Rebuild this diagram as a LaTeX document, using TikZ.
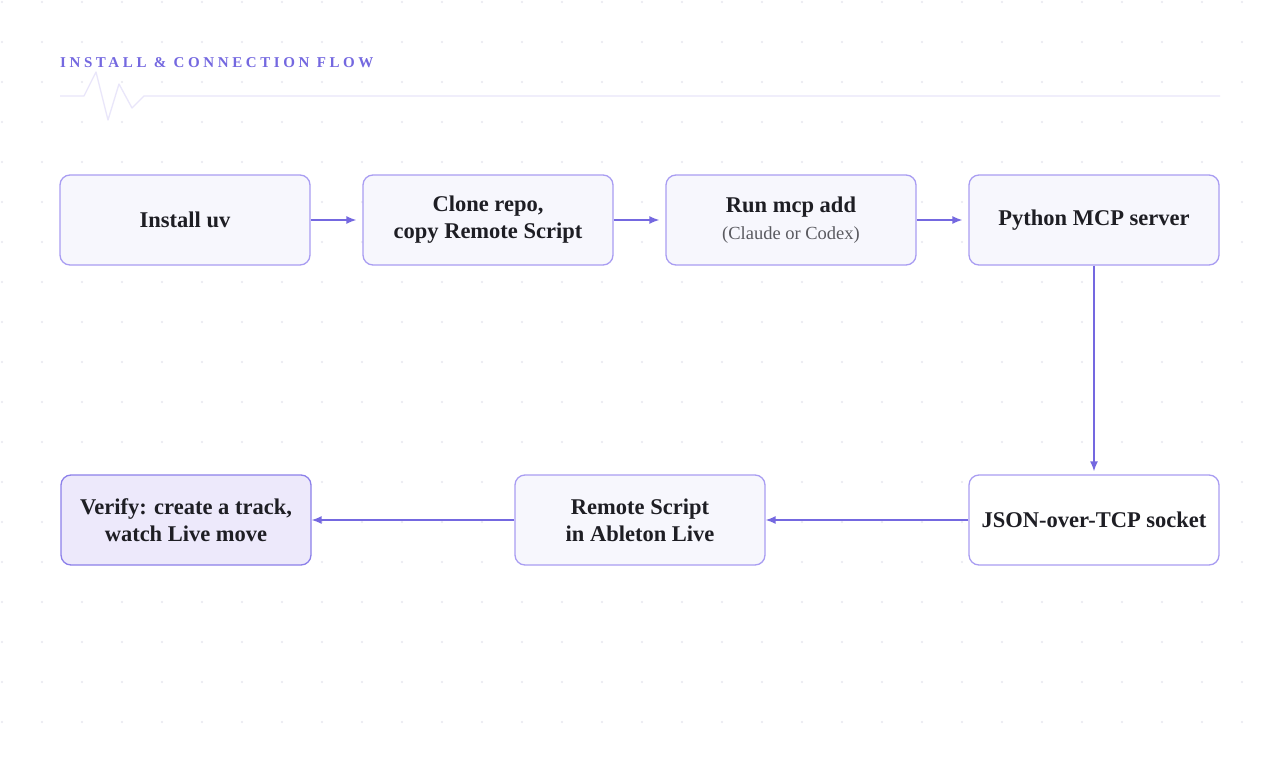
\documentclass[tikz,border=0pt]{standalone}
\usepackage{fontspec}
\setmainfont{Liberation Serif}
\newfontfamily\titlefont[LetterSpace=24]{Liberation Serif}
\usepackage{xcolor}
\usetikzlibrary{arrows.meta, positioning}

\definecolor{flowpurple}{HTML}{7468E0}
\definecolor{boxedge}{HTML}{A99DF2}
\definecolor{boxfill}{HTML}{F7F7FD}
\definecolor{verifyedge}{HTML}{8C80EA}
\definecolor{verifyfill}{HTML}{EDE9FB}
\definecolor{pulse}{HTML}{E9E6FA}
\definecolor{griddot}{HTML}{E7E7EF}
\definecolor{inktext}{HTML}{1E1E24}
\definecolor{subtext}{HTML}{5A5A60}

\begin{document}
\begin{tikzpicture}[x=1pt, y=-1pt,
    >={Latex[length=10pt, width=8pt]}, node distance=51.7pt,
    stepbox/.style={draw=boxedge, line width=1.3pt, rounded corners=10pt, fill=boxfill, minimum width=250pt, minimum height=90pt, inner sep=0pt, align=center, text=inktext, font=\fontsize{22.5}{27}\selectfont\bfseries},
    verifybox/.style={stepbox, draw=verifyedge, fill=verifyfill},
    socketbox/.style={stepbox, fill=white},
    flow/.style={->, line width=1.5pt, color=flowpurple},
]
% canvas and dot grid
\fill[white] (0,0) rectangle (1280,760);
\useasboundingbox (0,0) rectangle (1280,760);
\foreach \gx in {0,...,31} {
  \foreach \gy in {0,...,18} {
    \fill[griddot] (2+40*\gx, 2+40*\gy) circle (1.1pt);
  }
}
% title with pulse line
\node[anchor=base west, inner sep=0pt, text=flowpurple, font=\titlefont\fontsize{15}{18}\selectfont\bfseries] (title) at (60,68) {INSTALL \& CONNECTION FLOW};
\draw[pulse, line width=1.3pt, line join=round] (60,96) -- (84,96) -- (96,72) -- (108,120) -- (119,84) -- (132,108) -- (144,96) -- (1220,96);

% top row
\node[stepbox] (uv) at (185,220) {Install uv};
\node[stepbox, right=of uv] (clone) {Clone repo,\\copy Remote Script};
\node[stepbox, right=of clone] (mcpadd) {Run mcp add\\{\fontsize{18.5}{22}\selectfont\mdseries\color{subtext}(Claude or Codex)}};
\node[stepbox, right=of mcpadd] (server) {Python MCP server};
\draw[flow, shorten >=6pt] (uv) -- (clone);
\draw[flow, shorten >=6pt] (clone) -- (mcpadd);
\draw[flow, shorten >=6pt] (mcpadd) -- (server);

% bottom row
\node[socketbox, below=208.7pt of server] (socket) {JSON-over-TCP socket};
\node[stepbox, left=202.7pt of socket] (remote) {Remote Script\\in Ableton Live};
\node[verifybox, left=202.7pt of remote] (verify) {Verify: create a track,\\watch Live move};
\draw[flow, shorten >=3pt] (server) -- (socket);
\draw[flow] (socket) -- (remote);
\draw[flow] (remote) -- (verify);
\end{tikzpicture}
\end{document}
